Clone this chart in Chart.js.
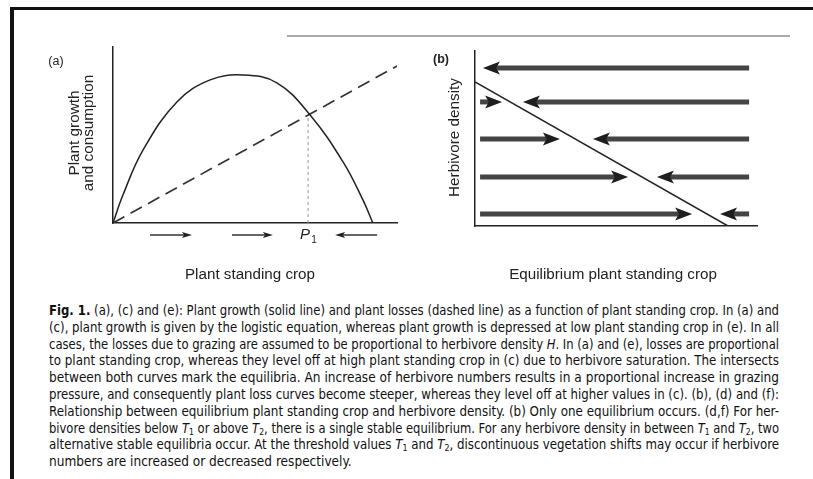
<!DOCTYPE html>
<html>
<head>
<meta charset="utf-8">
<script src="https://cdn.jsdelivr.net/npm/chart.js@4.4.1/dist/chart.umd.min.js"></script>
<style>
  html, body { margin: 0; padding: 0; background: #fff; }
  body { width: 813px; height: 479px; position: relative; overflow: hidden; }
  .frame-top { position: absolute; left: 10px; top: 7px; width: 803px; height: 3px; background: #111; }
  .frame-left { position: absolute; left: 10px; top: 7px; width: 4px; height: 472px; background: #111; }
  .rule { position: absolute; left: 287px; top: 35px; width: 503px; height: 1.5px; background: #aaa; }
  #wrap-a { position: absolute; left: 30px; top: 27px; width: 379px; height: 260px; }
  #wrap-b { position: absolute; left: 420px; top: 31px; width: 349px; height: 256px; }
  #caption {
    position: absolute; left: 49px; top: 302px; width: 730px;
    font-family: "Liberation Sans Narrow", "DejaVu Sans Condensed", "Liberation Sans", sans-serif;
    font-size: 13.5px; line-height: 16.8px; color: #111;
  }
  #caption .ln { white-space: nowrap; }
  #caption .ln span.inner { display: inline-block; transform-origin: 0 50%; }
  #caption sub { font-size: 9px; vertical-align: -2px; line-height: 0; }
</style>
</head>
<body>
<div class="frame-top"></div>
<div class="frame-left"></div>
<div class="rule"></div>
<div id="wrap-a"><canvas id="chart-a" width="379" height="260"></canvas></div>
<div id="wrap-b"><canvas id="chart-b" width="349" height="256"></canvas></div>
<div id="caption">
  <div class="ln full"><span class="inner"><b>Fig. 1.</b> (a), (c) and (e): Plant growth (solid line) and plant losses (dashed line) as a function of plant standing crop. In (a) and</span></div>
  <div class="ln full"><span class="inner">(c), plant growth is given by the logistic equation, whereas plant growth is depressed at low plant standing crop in (e). In all</span></div>
  <div class="ln full"><span class="inner">cases, the losses due to grazing are assumed to be proportional to herbivore density <i>H</i>. In (a) and (e), losses are proportional</span></div>
  <div class="ln full"><span class="inner">to plant standing crop, whereas they level off at high plant standing crop in (c) due to herbivore saturation. The intersects</span></div>
  <div class="ln full"><span class="inner">between both curves mark the equilibria. An increase of herbivore numbers results in a proportional increase in grazing</span></div>
  <div class="ln full"><span class="inner">pressure, and consequently plant loss curves become steeper, whereas they level off at higher values in (c). (b), (d) and (f):</span></div>
  <div class="ln full"><span class="inner">Relationship between equilibrium plant standing crop and herbivore density. (b) Only one equilibrium occurs. (d,f) For her-</span></div>
  <div class="ln full"><span class="inner">bivore densities below <i>T</i><sub>1</sub> or above <i>T</i><sub>2</sub>, there is a single stable equilibrium. For any herbivore density in between <i>T</i><sub>1</sub> and <i>T</i><sub>2</sub>, two</span></div>
  <div class="ln full"><span class="inner">alternative stable equilibria occur. At the threshold values <i>T</i><sub>1</sub> and <i>T</i><sub>2</sub>, discontinuous vegetation shifts may occur if herbivore</span></div>
  <div class="ln"><span class="inner">numbers are increased or decreased respectively.</span></div>
</div>
<script>
// panel (a): plant growth (solid) and consumption (dashed) vs standing crop
const growthX = [0, 0.35, 1.06, 2.25, 3.42, 4.58, 5.77, 6.94, 8.10, 8.80, 9.15];
const growthY = [0, 1.59, 4.15, 6.88, 8.13, 8.41, 7.96, 6.14, 3.47, 1.31, 0];
const lossX = [0, 10];
const lossY = [0, 8.92];
const p1X = [6.87, 6.87];
const p1Y = [0, 6.08];
// small arrows under the x axis (tail -> tip)
const flowTailA = [1.30, 4.19, 9.30];
const flowTipA = [2.78, 5.63, 7.82];

// panel (b): herbivore density vs equilibrium standing crop
const eqX = [0, 8.97];
const eqY = [8.23, 0];
const rowDensity = [9.03, 7.09, 4.97, 2.80, 0.69];
const rightTail = [null, 0.18, 0.18, 0.18, 0.18];
const rightTip = [null, 0.96, 3.01, 5.43, 7.70];
const leftTail = [9.72, 9.72, 9.72, 9.72, 9.72];
const leftTip = [0.28, 1.70, 4.18, 6.45, 8.69];

const FONT = "'Liberation Sans', Arial, sans-serif";
Chart.defaults.font.family = FONT;
Chart.defaults.color = "#222";
Chart.defaults.animation = false;

const toPts = (xs, ys) => xs.map((x, i) => ({ x: x, y: ys[i] }));

function drawArrow(ctx, x0, x1, y, shaftW, headL, headH, shaftColor, headColor) {
  const dir = x1 > x0 ? 1 : -1;
  const base = x1 - dir * headL;
  ctx.save();
  ctx.strokeStyle = shaftColor;
  ctx.lineWidth = shaftW;
  ctx.beginPath();
  ctx.moveTo(x0, y);
  ctx.lineTo(base + dir * headL * 0.3, y);
  ctx.stroke();
  ctx.fillStyle = headColor;
  ctx.beginPath();
  ctx.moveTo(x1, y);
  ctx.lineTo(base, y - headH);
  ctx.lineTo(base + dir * headL * 0.22, y);
  ctx.lineTo(base, y + headH);
  ctx.closePath();
  ctx.fill();
  ctx.restore();
}

function axisOpts() {
  return {
    type: "linear", min: 0, max: 10,
    grid: { display: false, drawTicks: false, tickLength: 0 },
    ticks: { display: false },
    border: { display: true, color: "#222", width: 1.5 },
    title: { display: false }
  };
}

// rotated axis title, one entry per line, starting at x0 and stepping right
function yTitle(ctx, lines, x0, step, yMid) {
  ctx.save();
  ctx.font = "15.3px " + FONT;
  ctx.fillStyle = "#222";
  ctx.textAlign = "center";
  ctx.textBaseline = "middle";
  lines.forEach((t, i) => {
    ctx.save();
    ctx.translate(x0 + i * step, yMid);
    ctx.rotate(-Math.PI / 2);
    ctx.fillText(t, 0, 0);
    ctx.restore();
  });
  ctx.restore();
}

const panelA = {
  id: "panelA",
  afterDraw(chart) {
    const { ctx, chartArea } = chart;
    const xs = chart.scales.x;
    const yRow = chartArea.bottom + 12;
    for (let i = 0; i < flowTailA.length; i++) {
      drawArrow(ctx, xs.getPixelForValue(flowTailA[i]), xs.getPixelForValue(flowTipA[i]), yRow, 1.3, 10, 3, "#333", "#222");
    }
    const px = xs.getPixelForValue(p1X[0]);
    ctx.save();
    ctx.fillStyle = "#222";
    ctx.textBaseline = "middle";
    ctx.textAlign = "center";
    ctx.font = "italic 15px " + FONT;
    ctx.fillText("P", px - 3, chartArea.bottom + 12);
    ctx.font = "10px " + FONT;
    ctx.fillText("1", px + 6, chartArea.bottom + 17);
    ctx.font = "12.5px " + FONT;
    ctx.fillText("(a)", chartArea.left - 57, chartArea.top + 15);
    ctx.font = "15.2px " + FONT;
    ctx.fillText("Plant standing crop", (chartArea.left + chartArea.right) / 2 - 5, chartArea.bottom + 52);
    ctx.restore();
    yTitle(ctx, ["Plant growth", "and consumption"], chartArea.left - 38, 13.5, (chartArea.top + chartArea.bottom) / 2 - 2);
  }
};

const panelB = {
  id: "panelB",
  afterDraw(chart) {
    const { ctx, chartArea } = chart;
    const xs = chart.scales.x, ys = chart.scales.y;
    for (let i = 0; i < rowDensity.length; i++) {
      const y = ys.getPixelForValue(rowDensity[i]);
      drawArrow(ctx, xs.getPixelForValue(leftTail[i]), xs.getPixelForValue(leftTip[i]), y, 5, 17, 6.5, "#444", "#1e1e1e");
      if (rightTip[i] !== null) {
        drawArrow(ctx, xs.getPixelForValue(rightTail[i]), xs.getPixelForValue(rightTip[i]), y, 5, 17, 6.5, "#444", "#1e1e1e");
      }
    }
    ctx.save();
    ctx.fillStyle = "#222";
    ctx.textBaseline = "middle";
    ctx.textAlign = "center";
    ctx.font = "bold 12.5px " + FONT;
    ctx.fillText("(b)", chartArea.left - 34, chartArea.top + 9);
    ctx.font = "15.2px " + FONT;
    ctx.fillText("Equilibrium plant standing crop", (chartArea.left + chartArea.right) / 2 - 3, chartArea.bottom + 49);
    ctx.restore();
    yTitle(ctx, ["Herbivore density"], chartArea.left - 20, 0, (chartArea.top + chartArea.bottom) / 2 - 1);
  }
};

new Chart(document.getElementById("chart-a"), {
  type: "line",
  data: {
    datasets: [
      { data: toPts(growthX, growthY), borderColor: "#222", borderWidth: 1.5, pointRadius: 0, tension: 0.4, fill: false },
      { data: toPts(lossX, lossY), borderColor: "#333", borderWidth: 1.7, borderDash: [13, 7], pointRadius: 0, fill: false },
      { data: toPts(p1X, p1Y), borderColor: "#999", borderWidth: 1, borderDash: [3, 3], pointRadius: 0, fill: false }
    ]
  },
  options: {
    responsive: false,
    layout: { autoPadding: false, padding: { left: 83, top: 20, right: 12, bottom: 64 } },
    plugins: { legend: { display: false }, tooltip: { enabled: false } },
    scales: { x: axisOpts(), y: axisOpts() }
  },
  plugins: [panelA]
});

new Chart(document.getElementById("chart-b"), {
  type: "line",
  data: {
    datasets: [
      { data: toPts(eqX, eqY), borderColor: "#222", borderWidth: 1.5, pointRadius: 0, fill: false }
    ]
  },
  options: {
    responsive: false,
    layout: { autoPadding: false, padding: { left: 55, top: 20, right: 12, bottom: 61 } },
    plugins: { legend: { display: false }, tooltip: { enabled: false } },
    scales: { x: axisOpts(), y: axisOpts() }
  },
  plugins: [panelB]
});

// fit every full caption line to the column width
const colW = 730;
document.querySelectorAll("#caption .ln.full").forEach(ln => {
  const inner = ln.querySelector(".inner");
  const w = inner.getBoundingClientRect().width;
  if (w > colW) {
    inner.style.transform = "scaleX(" + (colW / w) + ")";
  } else {
    const words = inner.innerHTML.split(" ").length - 1;
    inner.style.wordSpacing = ((colW - w) / Math.max(words, 1)) + "px";
  }
});
</script>
</body>
</html>
